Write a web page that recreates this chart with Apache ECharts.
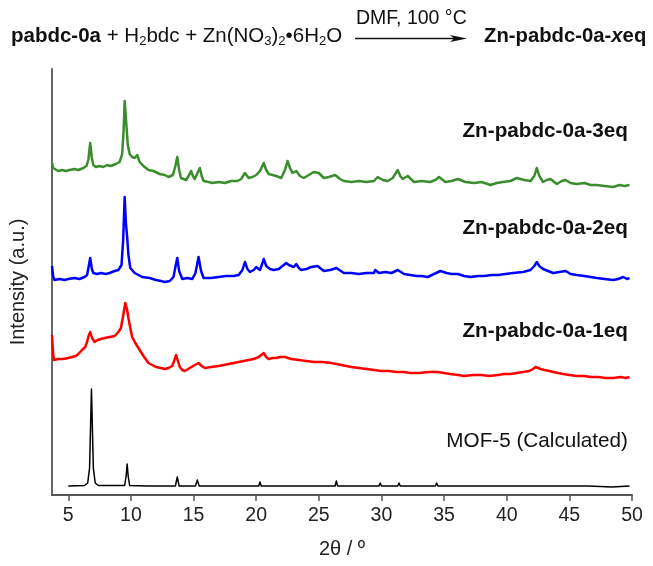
<!DOCTYPE html>
<html>
<head>
<meta charset="utf-8">
<script src="https://cdn.jsdelivr.net/npm/echarts@6/dist/echarts.min.js"></script>
<style>
  html, body { margin: 0; padding: 0; background: #fff; }
  #main { width: 653px; height: 566px; }
</style>
</head>
<body>
<div id="main"></div>
<script>
// 2θ ticks
var tickValues = [5, 10, 15, 20, 25, 30, 35, 40, 45, 50];

// series names (same order as the arrays below)
var names = ['MOF-5 (Calculated)', 'Zn-pabdc-0a-1eq', 'Zn-pabdc-0a-2eq', 'Zn-pabdc-0a-3eq'];
// vertical offset of each pattern (a.u.)
var offsets = [7, 115, 210, 305];

// [2θ, intensity], intensity in a.u. above each pattern's baseline
var mof5 = [
  [5.0, 2], [6.3, 2.5], [6.55, 5], [6.7, 20], [6.85, 99], [7.0, 20], [7.15, 5], [7.4, 2.5],
  [9.5, 2.5], [9.62, 12], [9.7, 24], [9.78, 12], [9.9, 2.5],
  [11.3, 2], [11.4, 4], [11.5, 2],
  [13.55, 2], [13.7, 11], [13.85, 2],
  [15.15, 2], [15.3, 8], [15.45, 2],
  [17.7, 2], [17.8, 3], [17.9, 2], [19.3, 2], [19.4, 4], [19.5, 2],
  [20.2, 2], [20.3, 6], [20.4, 2], [22.4, 2], [22.5, 4], [22.6, 2],
  [24.4, 2], [24.5, 4], [24.6, 2], [26.3, 2], [26.4, 7], [26.5, 2],
  [28.0, 2], [28.1, 3], [28.2, 2], [29.8, 2], [29.9, 5], [30.0, 2],
  [31.3, 2], [31.4, 5], [31.5, 2], [34.3, 2], [34.4, 5], [34.5, 2],
  [35.1, 2], [35.2, 4], [35.3, 2], [35.7, 2], [35.8, 4], [35.9, 2],
  [37.3, 2], [37.4, 3], [37.5, 2], [39.7, 2], [39.8, 3], [39.9, 2],
  [42.3, 2], [42.4, 4], [42.5, 2], [43.1, 2], [43.2, 3], [43.3, 2],
  [44.6, 2], [44.7, 3], [44.8, 2], [46.5, 2], [48.4, 1], [49.8, 2]
];

var zn1eq = [
  [3.7, 45], [3.78, 28], [3.85, 20], [4.2, 21], [4.6, 21], [5.0, 22], [5.3, 23], [5.6, 24],
  [5.8, 26], [6.1, 30], [6.35, 33], [6.5, 38], [6.62, 44], [6.75, 48], [6.9, 42], [7.1, 38],
  [7.35, 40], [7.6, 41], [7.9, 42], [8.3, 43], [8.7, 44], [9.0, 48], [9.2, 52], [9.35, 62],
  [9.55, 77], [9.7, 70], [9.8, 62], [9.95, 52], [10.1, 43], [10.35, 37], [10.6, 32], [11.0, 24],
  [11.4, 17], [11.7, 15], [12.0, 13], [12.4, 12], [12.7, 11], [13.0, 12], [13.3, 14], [13.45, 19],
  [13.6, 25], [13.75, 19], [13.9, 13], [14.1, 10], [14.3, 9], [14.7, 12], [15.1, 15], [15.4, 17],
  [15.65, 14], [15.9, 12], [16.4, 13], [17.0, 14], [17.4, 15], [17.8, 16], [18.2, 17], [18.6, 18],
  [19.0, 19], [19.4, 20], [19.8, 21], [20.2, 23], [20.4, 25], [20.6, 27], [20.8, 23], [21.0, 21],
  [21.3, 22], [21.6, 22], [21.9, 23], [22.3, 23], [22.8, 21], [23.4, 20], [24.0, 19], [24.6, 18],
  [25.3, 18], [26.0, 17], [26.8, 15], [27.6, 13], [28.2, 12], [28.8, 11], [29.4, 10], [30.0, 9],
  [30.6, 9], [31.2, 8], [31.8, 8], [32.3, 7], [33.0, 7], [33.8, 8], [34.5, 8], [35.0, 7],
  [35.5, 6], [36.1, 5], [36.6, 4], [37.3, 5], [38.0, 5], [38.6, 4], [39.3, 5], [39.8, 6],
  [40.3, 6], [40.8, 7], [41.3, 8], [41.8, 9], [42.1, 11], [42.3, 13], [42.5, 12], [42.7, 11],
  [43.0, 10], [43.4, 9], [43.7, 8], [44.1, 7], [44.5, 6], [45.0, 5], [45.6, 4], [46.2, 4],
  [46.7, 3], [47.3, 3], [47.9, 2], [48.5, 2], [49.1, 3], [49.5, 2], [49.8, 3]
];

var zn2eq = [
  [3.7, 19], [3.8, 8], [3.9, 5], [4.3, 6], [4.7, 5], [5.0, 6], [5.5, 7], [5.9, 6],
  [6.3, 8], [6.5, 10], [6.62, 18], [6.75, 27], [6.88, 16], [7.0, 12], [7.3, 11], [7.6, 12],
  [8.0, 11], [8.3, 12], [8.7, 14], [9.0, 15], [9.25, 20], [9.38, 45], [9.5, 88], [9.6, 62],
  [9.7, 48], [9.8, 30], [9.95, 17], [10.3, 12], [10.9, 8], [11.5, 7], [12.0, 5], [12.4, 4],
  [12.7, 3], [13.1, 4], [13.4, 8], [13.55, 18], [13.7, 27], [13.85, 14], [14.1, 6], [14.5, 7],
  [14.9, 6], [15.15, 12], [15.4, 28], [15.6, 14], [15.8, 7], [16.4, 7], [17.0, 8], [17.6, 9],
  [18.2, 9], [18.6, 10], [18.9, 15], [19.1, 23], [19.3, 16], [19.5, 13], [19.8, 15], [20.0, 18],
  [20.3, 15], [20.45, 20], [20.6, 26], [20.8, 19], [21.1, 16], [21.4, 15], [21.8, 16], [22.1, 19],
  [22.4, 22], [22.6, 20], [22.8, 19], [23.0, 18], [23.2, 21], [23.4, 17], [23.6, 15], [24.0, 16],
  [24.4, 18], [24.9, 19], [25.4, 14], [25.9, 15], [26.4, 17], [27.0, 12], [27.6, 12], [28.2, 11],
  [28.8, 12], [29.4, 12], [29.5, 15], [29.8, 12], [30.3, 13], [30.8, 12], [31.3, 15], [31.8, 11],
  [32.3, 10], [32.8, 9], [33.2, 9], [33.7, 8], [34.2, 11], [34.7, 14], [35.2, 12], [35.6, 11],
  [36.1, 11], [36.6, 9], [37.1, 8], [37.7, 9], [38.2, 9], [38.8, 10], [39.3, 10], [39.9, 11],
  [40.5, 12], [41.3, 13], [41.9, 15], [42.2, 19], [42.4, 23], [42.6, 19], [42.9, 16], [43.3, 14],
  [43.7, 12], [44.2, 13], [44.7, 14], [45.1, 11], [45.6, 10], [46.2, 9], [46.7, 8], [47.2, 7],
  [47.8, 6], [48.5, 5], [48.9, 6], [49.3, 8], [49.6, 6], [49.8, 7]
];

var zn3eq = [
  [3.7, 27], [3.8, 22], [3.9, 20], [4.2, 19], [4.5, 20], [4.8, 19], [5.1, 20], [5.5, 21],
  [5.8, 20], [6.2, 22], [6.45, 24], [6.6, 30], [6.75, 47], [6.88, 32], [7.0, 25], [7.2, 23],
  [7.5, 24], [7.8, 23], [8.1, 25], [8.4, 24], [8.8, 26], [9.1, 28], [9.3, 36], [9.42, 60],
  [9.5, 89], [9.6, 72], [9.75, 45], [9.9, 36], [10.1, 33], [10.3, 32], [10.5, 35], [10.7, 28],
  [11.0, 24], [11.4, 20], [11.8, 19], [12.3, 16], [12.7, 15], [13.0, 13], [13.35, 15], [13.55, 24],
  [13.7, 33], [13.85, 20], [14.0, 12], [14.4, 10], [14.65, 15], [14.8, 19], [14.95, 14], [15.1, 11],
  [15.35, 18], [15.5, 22], [15.65, 14], [15.8, 9], [16.2, 8], [16.5, 7], [17.0, 8], [17.5, 7],
  [18.0, 9], [18.5, 9], [18.8, 11], [19.1, 17], [19.4, 12], [19.7, 13], [20.0, 15], [20.3, 19],
  [20.6, 27], [20.8, 20], [21.0, 16], [21.3, 15], [21.6, 14], [22.0, 12], [22.3, 20], [22.5, 29],
  [22.7, 22], [22.9, 17], [23.2, 19], [23.5, 14], [23.8, 12], [24.2, 15], [24.6, 18], [25.0, 17],
  [25.4, 12], [25.8, 13], [26.3, 15], [26.7, 11], [27.0, 9], [27.6, 8], [28.2, 9], [28.8, 8],
  [29.4, 9], [29.7, 13], [30.1, 10], [30.5, 9], [30.9, 12], [31.3, 20], [31.5, 14], [31.7, 11],
  [32.1, 14], [32.6, 8], [33.2, 9], [33.9, 8], [34.3, 10], [34.6, 13], [35.1, 8], [35.6, 9],
  [36.1, 11], [36.7, 8], [37.4, 7], [38.0, 8], [38.7, 5], [39.2, 7], [39.7, 8], [40.3, 9],
  [40.8, 12], [41.4, 10], [41.9, 9], [42.2, 14], [42.4, 22], [42.6, 14], [42.9, 8], [43.2, 10],
  [43.5, 11], [44.0, 6], [44.4, 9], [44.7, 10], [45.1, 7], [45.6, 6], [46.2, 7], [46.7, 5],
  [47.2, 5], [47.8, 4], [48.5, 3], [49.0, 5], [49.4, 4], [49.8, 5]
];

var patterns = [mof5, zn1eq, zn2eq, zn3eq];
var colors = ['#000000', '#ff0000', '#0000ff', '#3a8d2c'];
var widths = [1.5, 2.5, 2.5, 2.5];

var FONT = '"Liberation Sans", Arial, sans-serif';

var chart = echarts.init(document.getElementById('main'));

var series = [];
for (var i = 0; i < patterns.length; i++) {
  var off = offsets[i];
  series.push({
    name: names[i],
    type: 'line',
    showSymbol: false,
    symbol: 'none',
    animation: false,
    lineStyle: { color: colors[i], width: widths[i], join: 'round' },
    data: patterns[i].map(function (p) { return [p[0], p[1] + off]; })
  });
}

// label positions next to each trace
var labelY = [443, 333, 230, 133];
var graphics = [];
for (var k = 0; k < names.length; k++) {
  graphics.push({
    type: 'text',
    right: 25,
    top: labelY[k] - 12,
    style: {
      text: names[k],
      font: (k === 0 ? '' : 'bold ') + '20.7px ' + FONT,
      fill: '#111'
    }
  });
}

// reaction scheme on top
graphics.push({
  type: 'text',
  left: 11,
  top: 26,
  style: {
    text: '{b|pabdc-0a}{n| + H}{s|2}{n|bdc + Zn(NO}{s|3}{n|)}{s|2}{n|•6H}{s|2}{n|O}',
    fill: '#111',
    rich: {
      b: { fontFamily: FONT, fontSize: 20.5, fontWeight: 'bold', lineHeight: 23 },
      n: { fontFamily: FONT, fontSize: 20.5, lineHeight: 23 },
      s: { fontFamily: FONT, fontSize: 13, lineHeight: 13, verticalAlign: 'bottom' }
    }
  }
});
graphics.push({
  type: 'text',
  left: 356,
  top: 9,
  style: { text: 'DMF, 100 °C', font: '19.5px ' + FONT, fill: '#111' }
});
graphics.push({
  type: 'line',
  shape: { x1: 355, y1: 38.5, x2: 458, y2: 38.5 },
  style: { stroke: '#111', lineWidth: 1.3 }
});
graphics.push({
  type: 'polygon',
  shape: { points: [[450, 35], [467, 38.5], [450, 42], [454, 38.5]] },
  style: { fill: '#111' }
});
graphics.push({
  type: 'text',
  left: 484,
  top: 26,
  style: {
    text: '{b|Zn-pabdc-0a-}{i|x}{b|eq}',
    fill: '#111',
    rich: {
      b: { fontFamily: FONT, fontSize: 20.3, fontWeight: 'bold', lineHeight: 23 },
      i: { fontFamily: FONT, fontSize: 20.3, fontWeight: 'bold', fontStyle: 'italic', lineHeight: 23 }
    }
  }
});

chart.setOption({
  backgroundColor: '#fff',
  animation: false,
  grid: { left: 50, right: 21, top: 69, bottom: 71, containLabel: false },
  xAxis: {
    type: 'value',
    min: 3.7,
    max: 50,
    name: '2θ / º',
    nameLocation: 'middle',
    nameGap: 44,
    nameTextStyle: { fontFamily: FONT, fontSize: 20, color: '#222' },
    splitLine: { show: false },
    axisLine: { show: true, lineStyle: { color: '#555', width: 2 } },
    axisTick: { show: true, inside: false, length: 6, customValues: tickValues, lineStyle: { color: '#555', width: 1.5 } },
    axisLabel: { customValues: tickValues, fontFamily: FONT, fontSize: 19.5, color: '#222', margin: 11 }
  },
  yAxis: {
    type: 'value',
    min: 0,
    max: 426,
    name: 'Intensity (a.u.)',
    nameLocation: 'middle',
    nameGap: 24,
    nameTextStyle: { fontFamily: FONT, fontSize: 20, color: '#222' },
    splitLine: { show: false },
    axisLine: { show: true, lineStyle: { color: '#666', width: 2 } },
    axisTick: { show: false },
    axisLabel: { show: false }
  },
  graphic: graphics,
  series: series
});
</script>
</body>
</html>
